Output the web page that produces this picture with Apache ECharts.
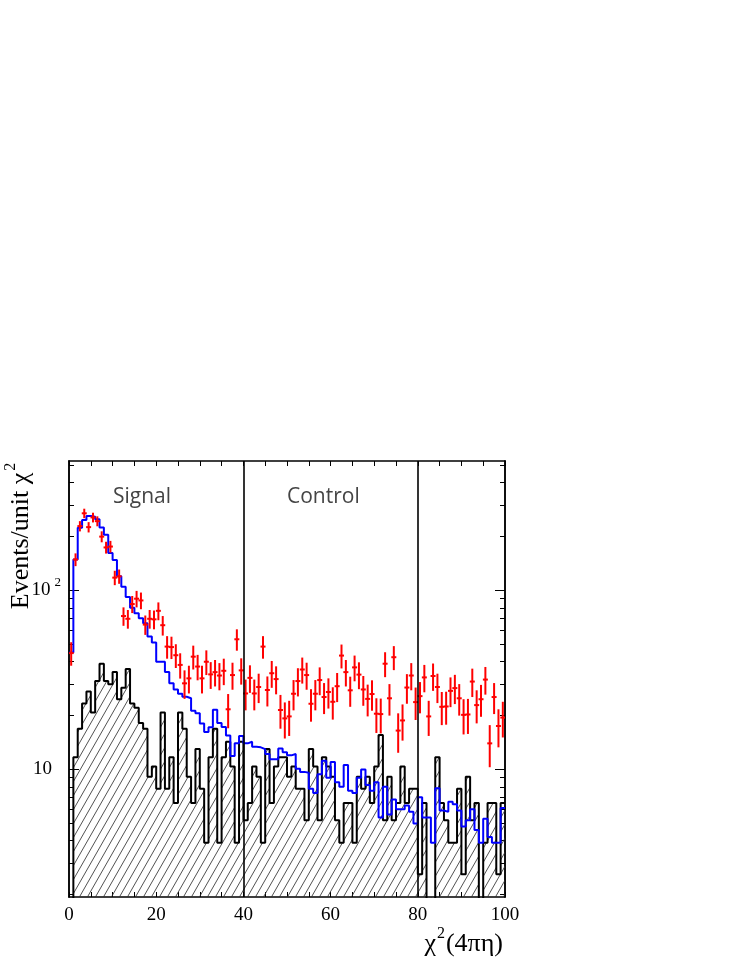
<!DOCTYPE html>
<html><head><meta charset="utf-8">
<script src="https://cdn.jsdelivr.net/npm/echarts@6/dist/echarts.min.js"></script>
<style>html,body{margin:0;padding:0;background:#fff}#c{width:747px;height:967px}</style>
</head><body><div id="c"></div>
<script>
// bin edges: 100 bins of width 1 from 0 to 100
const binLow = [0,1,2,3,4,5,6,7,8,9,10,11,12,13,14,15,16,17,18,19,20,21,22,23,24,25,26,27,28,29,30,31,32,33,34,35,36,37,38,39,40,41,42,43,44,45,46,47,48,49,50,51,52,53,54,55,56,57,58,59,60,61,62,63,64,65,66,67,68,69,70,71,72,73,74,75,76,77,78,79,80,81,82,83,84,85,86,87,88,89,90,91,92,93,94,95,96,97,98,99];
const xMax = 100;
// data (red points)
const dataVals = [44.7,149,229,270,226,256,244,200,174,176,
  118,120,72,69.5,84,90,88,64.5,69.5,69,
  77,64,48.6,48.3,43.5,38.4,30.3,32.3,42.7,37.6,
  32.3,40,34,35,33.5,35.6,21.7,33.7,53.4,35.8,
  26.6,32.5,26.6,28.9,48.6,27.8,34.5,32,21.5,19.3,
  19.8,26.5,31.2,36.2,33.7,23.3,26.5,31.6,25.4,27.1,
  23.9,29.2,43.3,35,27.7,37.2,33.9,28,24.8,26.4,
  20.5,20.4,39,25,42.4,16.5,18.8,28.7,33.5,23.8,
  25.7,32.7,19.8,33.3,28.9,22.4,22.5,27.5,28.5,25,
  20.2,20.3,31,22.9,24.7,31.8,14,25.4,17.5,19.5];
const dataErr = [6.7,12.2,15.1,16.4,15.0,16.0,15.6,14.1,13.2,13.3,
  10.9,11.0,8.5,8.3,9.2,9.5,9.4,8.0,8.3,8.3,
  8.8,8.0,7.0,6.9,6.6,6.2,5.5,5.7,6.5,6.1,
  5.7,6.3,5.8,5.9,5.8,6.0,4.7,5.8,7.3,6.0,
  5.2,5.7,5.2,5.4,7.0,5.3,5.9,5.7,4.6,4.4,
  4.4,5.1,5.6,6.0,5.8,4.8,5.1,5.6,5.0,5.2,
  4.9,5.4,6.6,5.9,5.3,6.1,5.8,5.3,5.0,5.1,
  4.5,4.5,6.2,5.0,6.5,4.1,4.3,5.4,5.8,4.9,
  5.1,5.7,4.4,5.8,5.4,4.7,4.7,5.2,5.3,5.0,
  4.5,4.5,5.6,4.8,5.0,5.6,3.7,5.0,4.2,4.4];
// MC (blue histogram)
const mcVals = [45,149,224,248,261,258,250,225,205,162,
  148,120,105,92,80,74.6,70,65.6,55.3,51.3,
  40,40,35,30.3,28,26.5,25.5,25,21.3,20.6,
  18.1,16.2,17.2,21.6,18.2,17.3,15.5,11.9,14.0,15.4,
  14.0,14.3,13.4,13.3,13.0,12.2,11.4,11.4,13.1,12.5,
  12.0,12.2,10.1,9.7,9.6,7.8,7.4,9.4,11.2,9.0,
  11.0,8.5,8.0,10.6,7.6,7.4,9.0,10.0,8.2,7.6,
  8.5,5.4,8.0,5.6,6.8,6.0,6.0,6.3,5.8,5.0,
  7.0,5.4,5.4,3.9,7.85,5.9,5.8,6.6,6.4,5.9,
  4.8,5.2,6.0,4.6,3.9,5.3,4.2,3.9,3.9,6.1];
// background (black hatched histogram)
const bgVals = [1.3,11.7,16.9,23.4,27.3,20.8,31.2,39.0,31.2,29.9,
  35.1,24.7,28.6,36.4,23.4,22.1,18.2,16.9,9.1,10.4,
  7.8,20.8,7.8,11.7,6.5,20.8,16.9,9.1,6.5,13.0,
  7.8,3.9,11.7,16.9,3.9,11.7,14.3,10.4,3.9,14.3,
  5.2,6.5,10.4,9.1,3.9,13.0,6.5,10.4,11.7,11.7,
  9.1,10.4,7.8,7.8,5.2,13.0,10.4,5.2,11.7,10.4,
  9.1,5.2,3.9,6.5,6.5,3.9,9.1,7.8,9.1,6.5,
  10.4,15.6,5.2,9.1,5.2,6.5,10.4,6.5,7.8,7.8,
  2.6,6.5,1.3,1.3,11.7,6.5,5.2,3.9,3.9,7.8,
  2.6,9.1,5.2,6.5,1.3,3.9,6.5,6.5,2.6,6.5];
const regionLines = [40, 80];
const regionLabels = ['Signal', 'Control'];
const xLabelVals = [0,20,40,60,80,100];
const yMajor = [10,100];
const yMinor = [2,3,4,5,6,7,8,9,20,30,40,50,60,70,80,90,200,300,400,500];
const yMin = 1.94, yMax = 529;

function histPoints(vals){
  const pts = vals.map((v,i)=>[binLow[i], v]);
  pts.push([xMax, vals[vals.length-1]]);
  return pts;
}

// hatch pattern
const W = 8, H = 14;
const pc = document.createElement('canvas');
pc.width = W; pc.height = H;
const g = pc.getContext('2d');
g.strokeStyle = '#333'; g.lineWidth = 0.85;
for (const off of [-W, 0, W]) {
  g.beginPath(); g.moveTo(off, H); g.lineTo(off + W, 0); g.stroke();
}

const chart = echarts.init(document.getElementById('c'), null, {renderer:'canvas'});
const serif = 'Liberation Serif';
const xAxisBase = {
  type:'value', min:0, max:xMax, interval:5,
  axisLine:{show:true, onZero:false, lineStyle:{color:'#000', width:1.5}},
  axisTick:{show:true, inside:true, length:5, lineStyle:{color:'#000', width:1}},
  splitLine:{show:false}
};
const yBase = {
  type:'log', logBase:10, min:yMin, max:yMax,
  axisLine:{show:true, lineStyle:{color:'#000', width:1.5}},
  splitLine:{show:false}, minorTick:{show:false}
};
chart.setOption({
  animation:false,
  backgroundColor:'#fff',
  grid:{left:69, top:461, width:436, height:436, containLabel:false},
  xAxis:[
    Object.assign({}, xAxisBase, {position:'bottom',
      axisLabel:{show:true, margin:9, color:'#000', fontFamily:serif, fontSize:19,
        customValues:xLabelVals, formatter:v=>String(Math.round(v))}}),
    Object.assign({}, xAxisBase, {position:'top', axisLabel:{show:false}})
  ],
  yAxis:[
    Object.assign({}, yBase, {position:'left',
      axisTick:{show:true, inside:true, length:10, customValues:yMajor, lineStyle:{color:'#000'}},
      axisLabel:{show:true, margin:8, customValues:yMajor,
        formatter:v=> Math.round(v)===100 ? '{n|10}{s|2}' : '{p|10}',
        rich:{
          n:{fontFamily:serif, fontSize:19, color:'#000'},
          p:{fontFamily:serif, fontSize:19, color:'#000', padding:[0,9,0,0]},
          s:{fontFamily:serif, fontSize:13, color:'#000', padding:[0,0,16,4]}
        }}}),
    Object.assign({}, yBase, {position:'left',
      axisTick:{show:true, inside:true, length:5, customValues:yMinor, lineStyle:{color:'#000'}},
      axisLabel:{show:false}}),
    Object.assign({}, yBase, {position:'right',
      axisTick:{show:true, inside:true, length:10, customValues:yMajor, lineStyle:{color:'#000'}},
      axisLabel:{show:false}}),
    Object.assign({}, yBase, {position:'right',
      axisTick:{show:true, inside:true, length:5, customValues:yMinor, lineStyle:{color:'#000'}},
      axisLabel:{show:false}})
  ],
  series:[
    {
      type:'line', step:'end', data:histPoints(bgVals), symbol:'none', clip:true, z:2,
      lineStyle:{color:'#000', width:2},
      areaStyle:{origin:'start', opacity:1, color:{image:pc, repeat:'repeat'}}
    },
    {
      type:'line', step:'end', data:histPoints(mcVals), symbol:'none', clip:true, z:3,
      lineStyle:{color:'#0000ff', width:2},
      markLine:{silent:true, symbol:['none','none'], label:{show:false},
        lineStyle:{color:'#000', width:1.6, type:'solid'},
        data:regionLines.map(v=>({xAxis:v}))}
    },
    {
      type:'custom', z:4, clip:true,
      data:dataVals.map((v,i)=>[binLow[i]+0.5, v, dataErr[i]]),
      encode:{x:0, y:1},
      renderItem:function(params, api){
        const x = api.value(0), v = api.value(1), e = api.value(2);
        const c = api.coord([x, v]);
        const lo = api.coord([x, v - e]);
        const hi = api.coord([x, v + e]);
        return {type:'group', children:[
          {type:'line', shape:{x1:c[0], y1:lo[1], x2:c[0], y2:hi[1]}, style:{stroke:'#ff0000', lineWidth:2}},
          {type:'line', shape:{x1:c[0]-2.5, y1:c[1], x2:c[0]+2.5, y2:c[1]}, style:{stroke:'#ff0000', lineWidth:2}}
        ]};
      }
    }
  ],
  graphic:[
    {type:'text', left:113, top:487, style:{text:regionLabels[0], fill:'#444', font:'21px "Open Sans"'}},
    {type:'text', left:287, top:487, style:{text:regionLabels[1], fill:'#444', font:'21px "Open Sans"'}},
    {type:'text', x:21, y:536, rotation:Math.PI/2,
      style:{text:'{a|Events/unit χ}{s|2}', align:'center', verticalAlign:'middle',
        rich:{a:{fontFamily:serif, fontSize:26, fill:'#000'},
              s:{fontFamily:serif, fontSize:16, fill:'#000', padding:[0,0,20,2]}}}},
    {type:'text', x:503, y:944,
      style:{text:'{a|χ}{s|2}{a|(4πη)}', align:'right', verticalAlign:'middle',
        rich:{a:{fontFamily:serif, fontSize:26, fill:'#000'},
              s:{fontFamily:serif, fontSize:16, fill:'#000', padding:[0,1,20,1]}}}}
  ]
});
</script>
</body></html>
